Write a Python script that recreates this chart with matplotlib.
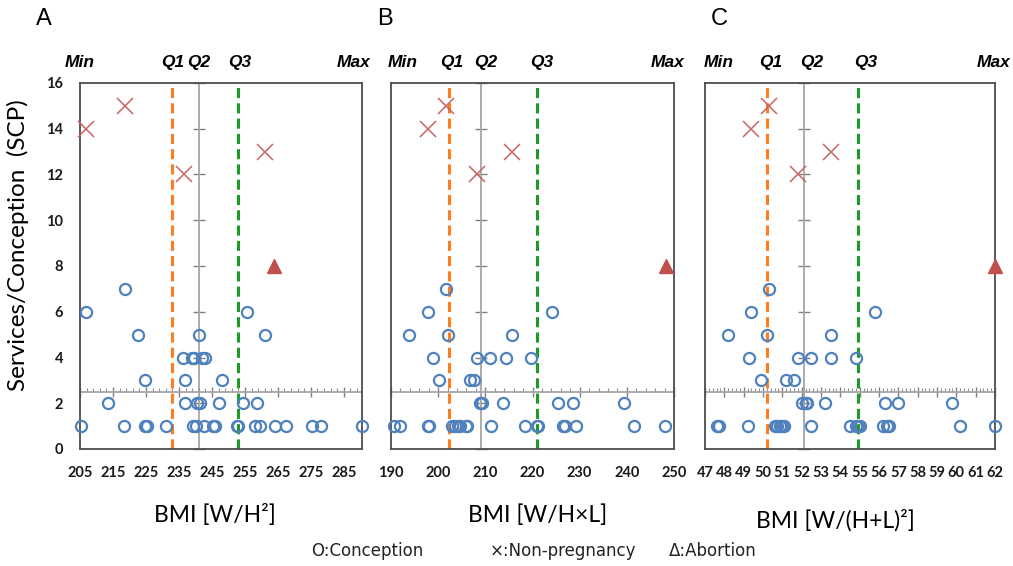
import matplotlib.pyplot as plt
from matplotlib.ticker import MultipleLocator

# ---- data (BMI value, services per conception) ----
# A: BMI [W/H^2]
a_conc_bmi = [205.2, 218.3, 224.7, 225.2, 231.1, 239.3, 240.1, 242.7, 245.4, 245.9,
              252.5, 253.0, 258.0, 259.5, 264.2, 267.6, 275.2, 278.0, 290.4,
              213.4, 236.8, 240.4, 241.4, 247.2, 254.5, 258.7,
              224.7, 236.8, 248.1,
              236.3, 238.9, 239.5, 242.1, 242.9,
              222.7, 241.1, 261.1,
              206.8, 255.7,
              218.7]
a_conc_scp = [1, 1, 1, 1, 1, 1, 1, 1, 1, 1, 1, 1, 1, 1, 1, 1, 1, 1, 1,
              2, 2, 2, 2, 2, 2, 2,
              3, 3, 3,
              4, 4, 4, 4, 4,
              5, 5, 5,
              6, 6,
              7]
a_nonp_bmi = [206.7, 218.7, 236.5, 261.1]
a_nonp_scp = [14, 15, 12, 13]
a_abort_bmi = [263.9]
a_abort_scp = [8]
a_quart = [205, 233, 241, 253, 290.4]   # Min, Q1, Q2, Q3, Max
a_label_x = [205, 233.2, 241, 253.5, 288]
a_xticks = [205, 215, 225, 235, 245, 255, 265, 275, 285]

# B: BMI [W/HxL]
b_conc_bmi = [190.6, 191.9, 197.9, 198.1, 202.9, 203.6, 204.3, 204.6, 205.9, 206.2,
              211.2, 218.4, 220.9, 221.2, 226.5, 226.9, 229.2, 241.6, 248.1,
              208.9, 209.2, 213.8, 225.5, 228.5, 239.5,
              200.2, 206.7, 207.5,
              199.0, 208.2, 211.0, 214.3, 219.7,
              193.9, 202.1, 215.7,
              197.9, 224.1,
              201.6]
b_conc_scp = [1, 1, 1, 1, 1, 1, 1, 1, 1, 1, 1, 1, 1, 1, 1, 1, 1, 1, 1,
              2, 2, 2, 2, 2, 2,
              3, 3, 3,
              4, 4, 4, 4, 4,
              5, 5, 5,
              6, 6,
              7]
b_nonp_bmi = [201.6, 197.9, 208.3, 215.7]
b_nonp_scp = [15, 14, 12, 13]
b_abort_bmi = [248.2]
b_abort_scp = [8]
b_quart = [190.6, 202.2, 209.0, 220.9, 248.2]
b_label_x = [192.5, 202.9, 210, 222, 248.7]
b_xticks = [190, 200, 210, 220, 230, 240, 250]

# C: BMI [W/(H+L)^2]
c_conc_bmi = [47.6, 47.7, 49.2, 50.6, 50.7, 50.9, 51.0, 51.1, 52.5, 54.5,
              54.8, 54.9, 55.0, 56.2, 56.4, 56.5, 60.2, 62.0,
              52.0, 52.2, 52.3, 53.2, 56.3, 57.0, 59.8,
              49.9, 51.2, 51.6,
              49.3, 51.8, 52.5, 53.5, 54.8,
              48.2, 50.2, 53.5,
              49.4, 55.8,
              50.3]
c_conc_scp = [1, 1, 1, 1, 1, 1, 1, 1, 1, 1, 1, 1, 1, 1, 1, 1, 1, 1,
              2, 2, 2, 2, 2, 2, 2,
              3, 3, 3,
              4, 4, 4, 4, 4,
              5, 5, 5,
              6, 6,
              7]
c_nonp_bmi = [50.3, 49.4, 51.8, 53.5]
c_nonp_scp = [15, 14, 12, 13]
c_abort_bmi = [62.0]
c_abort_scp = [8]
c_quart = [47.6, 50.2, 52.1, 54.9, 62.0]
c_label_x = [47.7, 50.4, 52.5, 55.3, 61.9]
c_xticks = [47, 48, 49, 50, 51, 52, 53, 54, 55, 56, 57, 58, 59, 60, 61, 62]

quart_names = ['Min', 'Q1', 'Q2', 'Q3', 'Max']
yticks = [0, 2, 4, 6, 8, 10, 12, 14, 16]

BLUE = '#4f81bd'
RED = '#c0504d'
XRED = '#c96464'
GRAY = '#a6a6a6'
BOX = '#4d4d4d'

fig = plt.figure(figsize=(10.13, 5.66), dpi=100)


def panel(rect, conc_x, conc_y, nonp_x, nonp_y, ab_x, ab_y, quart, label_x,
          xticks, xlim, minor, minor_off, show_y):
    ax = fig.add_axes(rect)
    ax.set_xlim(*xlim)
    ax.set_ylim(0, 16)
    for s in ax.spines.values():
        s.set_color(BOX)
        s.set_linewidth(1.3)

    ax.axvline(quart[1], color='#ff7c1f', lw=2.2, dashes=(3.3, 1.7), zorder=2)
    ax.axvline(quart[3], color='#1f9a26', lw=2.2, dashes=(3.3, 1.7), zorder=2)

    # axes crossing at Q2 and SCP = 2.5
    vax = ax.secondary_yaxis((quart[2] - xlim[0]) / (xlim[1] - xlim[0]))
    vax.set_yticks(yticks)
    vax.tick_params(direction='inout', length=8, width=1, color='#808080',
                    labelleft=False, labelright=False)
    for s in vax.spines.values():
        s.set_color(GRAY)
        s.set_linewidth(1.3)
    hax = ax.secondary_xaxis(2.5 / 16)
    hax.set_xticks(xticks)
    hax.xaxis.set_minor_locator(MultipleLocator(minor, offset=minor_off))
    hax.tick_params(which='major', direction='inout', length=7, width=1,
                    color='#808080', labelbottom=False, labeltop=False)
    hax.tick_params(which='minor', direction='in', length=3, width=0.8,
                    color='#909090')
    for s in hax.spines.values():
        s.set_color(GRAY)
        s.set_linewidth(1.3)

    ax.plot(conc_x, conc_y, 'o', ms=8, mfc='none', mec=BLUE, mew=1.6,
            zorder=4, clip_on=False)
    ax.plot(nonp_x, nonp_y, 'x', ms=12, mec=XRED, mew=1.1, zorder=4, clip_on=False)
    ax.plot(ab_x, ab_y, '^', ms=10, color=RED, mec=RED, zorder=4, clip_on=False)

    ax.set_xticks(xticks)
    ax.set_yticks(yticks)
    ax.tick_params(length=0, pad=12, labelsize=10.5, labelcolor='#1a1a1a')
    ax.tick_params(axis='y', labelleft=show_y)
    for lab in ax.get_xticklabels() + ax.get_yticklabels():
        lab.set_fontweight('bold')
        lab.set_fontfamily('Lato')

    for name, xv in zip(quart_names, label_x):
        ax.text(xv, 1.057, name, transform=ax.get_xaxis_transform(),
                ha='center', va='center', fontsize=12.5, fontweight='bold',
                fontstyle='italic', family='Liberation Sans')
    return ax


H = 366 / 566
BOT = 1 - 449 / 566
panel([80 / 1013, BOT, 282 / 1013, H], a_conc_bmi, a_conc_scp, a_nonp_bmi, a_nonp_scp,
      a_abort_bmi, a_abort_scp, a_quart, a_label_x, a_xticks, (205, 290.5), 2, 1, True)
panel([391 / 1013, BOT, 283 / 1013, H], b_conc_bmi, b_conc_scp, b_nonp_bmi, b_nonp_scp,
      b_abort_bmi, b_abort_scp, b_quart, b_label_x, b_xticks, (190, 250), 2, 0, False)
panel([705 / 1013, BOT, 290 / 1013, H], c_conc_bmi, c_conc_scp, c_nonp_bmi, c_nonp_scp,
      c_abort_bmi, c_abort_scp, c_quart, c_label_x, c_xticks, (47, 62), 0.2, 0, False)

for letter, px in zip(['A', 'B', 'C'], [44, 385, 719]):
    fig.text(px / 1013, 1 - 19 / 566, letter, ha='center', va='center',
             fontsize=17, family='Liberation Sans')

fig.text(18 / 1013, 1 - 245 / 566, 'Services/Conception  (SCP)', rotation=90,
         ha='center', va='center', fontsize=17.5, family='Lato')
for lab, px, py in zip(['BMI [W/H²]', 'BMI [W/H×L]', 'BMI [W/(H+L)²]'],
                       [215, 538, 835], [515, 515, 520]):
    fig.text(px / 1013, 1 - py / 566, lab, ha='center', va='center',
             fontsize=16.5, family='Lato')

for lab, px in zip(['O:Conception', '×:Non-pregnancy', 'Δ:Abortion'], [367, 563, 713]):
    fig.text(px / 1013, 1 - 551 / 566, lab, ha='center', va='center',
             fontsize=12, family='DejaVu Sans', color='#222222')

fig.savefig('out.png', dpi=100)
